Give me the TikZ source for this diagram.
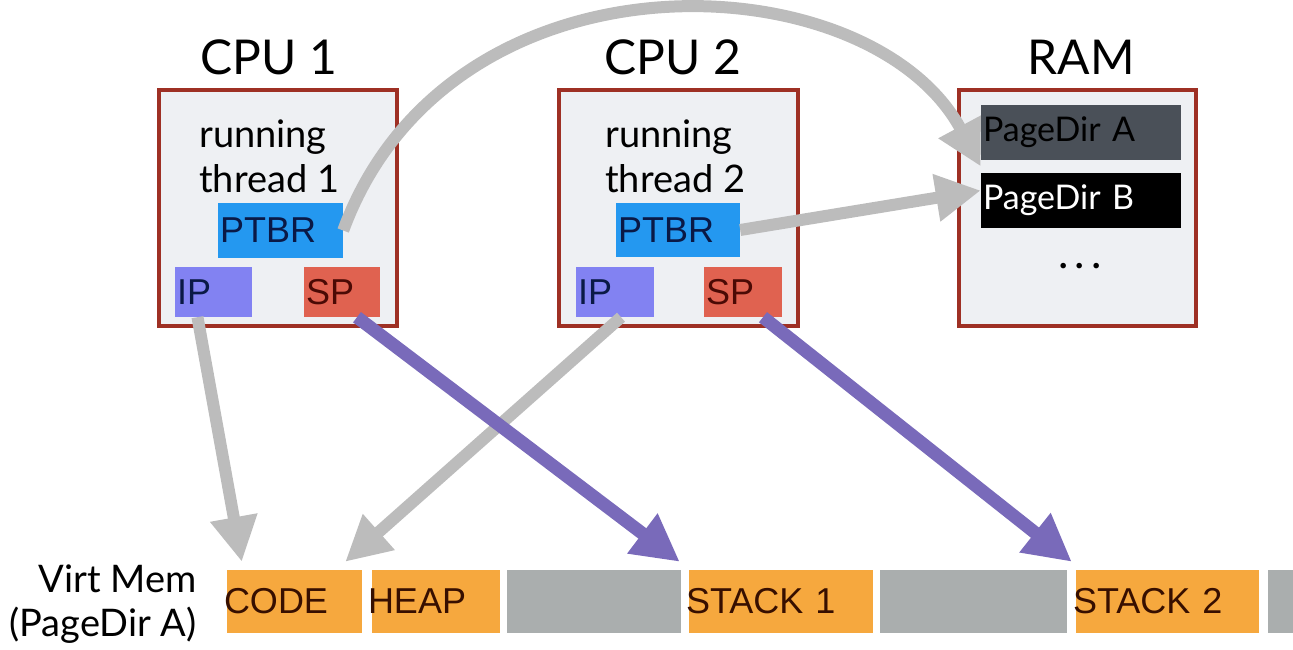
\documentclass[tikz,border=0pt]{standalone}
\usepackage{fontspec}
\setmainfont{Lato}
\newfontfamily\helv{Liberation Sans}
\usetikzlibrary{arrows.meta,calc}

\definecolor{boxred}{RGB}{158,48,36}
\definecolor{boxfill}{RGB}{238,240,243}
\definecolor{ptbrblue}{RGB}{36,152,240}
\definecolor{ipblue}{RGB}{130,130,242}
\definecolor{spred}{RGB}{224,98,80}
\definecolor{dirgray}{RGB}{74,80,88}
\definecolor{segorange}{RGB}{246,168,62}
\definecolor{seggray}{RGB}{170,174,174}
\definecolor{linkgray}{RGB}{188,188,188}
\definecolor{linkpurple}{RGB}{121,106,186}
\definecolor{navy}{RGB}{10,25,70}
\definecolor{darkbrown}{RGB}{55,15,0}
\definecolor{darkred}{RGB}{75,10,5}

\begin{document}
\begin{tikzpicture}[x=1pt,y=-1pt,
  unit/.style={draw=boxred,line width=4pt,fill=boxfill,inner sep=0pt},
  title/.style={font=\fontsize{48}{48}\selectfont,anchor=base},
  caption/.style={font=\fontsize{38}{45}\selectfont,align=left,anchor=base west,inner sep=0pt},
  reg/.style={inner xsep=2pt,inner ysep=0pt,align=left,font=\helv\fontsize{36}{36}\selectfont},
  dir/.style={inner xsep=2pt,inner ysep=0pt,align=left,text width=196pt,minimum height=55pt,font=\fontsize{34}{34}\selectfont},
  seg/.style={inner sep=0pt,minimum height=63pt,align=left,font=\helv\fontsize{36}{36}\selectfont,text=darkbrown},
  link/.style={line width=12pt,draw=linkgray,-{Triangle[length=45pt,width=45pt]}},
  stacklink/.style={line width=13pt,draw=linkpurple,-{Triangle[length=47pt,width=47pt]}}
]
\useasboundingbox (0,0) rectangle (1293,650);

% processors and memory
\node[unit,minimum width=238pt,minimum height=236pt] (cpu1) at (278,208) {};
\node[unit,minimum width=239pt,minimum height=236pt] (cpu2) at (678.5,208) {};
\node[unit,minimum width=237pt,minimum height=236pt] (ram) at (1077.5,208) {};

\node[title] (t1) at (269,75) {CPU 1};
\node[title] (t2) at (673,75) {CPU 2};
\node[title] (t3) at (1081,75) {RAM};

% the base anchor of a two-line node sits on its last line
\node[caption] (run1) at (199,192) {running\\thread 1};
\node[caption] (run2) at (605,192) {running\\thread 2};

% registers
\node[reg,fill=ptbrblue,text=navy,text width=121pt,minimum height=55pt] (ptbr1) at (280.5,230.5) {PTBR};
\node[reg,fill=ipblue,text=navy,text width=73pt,minimum height=50pt] (ip1) at (213.5,292) {IP};
\node[reg,fill=spred,text=darkred,text width=72pt,minimum height=50pt] (sp1) at (342,292) {SP};

\node[reg,fill=ptbrblue,text=navy,text width=120pt,minimum height=54pt] (ptbr2) at (678,230) {PTBR};
\node[reg,fill=ipblue,text=navy,text width=74pt,minimum height=50pt] (ip2) at (615,292) {IP};
\node[reg,fill=spred,text=darkred,text width=74pt,minimum height=50pt] (sp2) at (743,292) {SP};

% page directories
\node[dir,fill=dirgray,text=black] (pda) at (1081,132.5) {PageDir A};
\node[dir,fill=black,text=white] (pdb) at (1081,200.5) {PageDir B};
\node[font=\fontsize{44}{44}\selectfont,anchor=base,inner sep=0pt] (more) at (1080,268) {.\hspace{6pt}.\hspace{6pt}.};

% virtual memory layout
\node[font=\fontsize{38}{44}\selectfont,align=right,anchor=base east,inner sep=0pt] (vm) at (197,636) {Virt Mem\\(PageDir A)};
\node[seg,fill=segorange,text width=135pt] (code) at (294.5,601.5) {\hspace*{-3pt}CODE};
\node[seg,fill=segorange,text width=128pt] (heap) at (436,601.5) {\hspace*{-4pt}HEAP};
\node[seg,fill=seggray,text width=174pt] (gap1) at (594,601.5) {};
\node[seg,fill=segorange,text width=184pt] (stack1) at (781,601.5) {\hspace*{-3pt}STACK 1};
\node[seg,fill=seggray,text width=187pt] (gap2) at (973.5,601.5) {};
\node[seg,fill=segorange,text width=183pt] (stack2) at (1167.5,601.5) {\hspace*{-3pt}STACK 2};
\node[seg,fill=seggray,text width=25pt] (gap3) at (1280.5,601.5) {};

% page table base registers point into RAM
\draw[link] (ptbr1.east) .. controls (450,-60) and (870,-40) .. ($(pda.south west)!0.5!(pdb.north west)$);
\draw[link] (ptbr2.east) -- ([yshift=10pt]pdb.west);

% instruction pointers into code
\draw[link] ([xshift=-16pt]ip1.south) -- ([xshift=15pt,yshift=8pt]code.north west);
\draw[link] ([xshift=6pt]ip2.south) -- ([xshift=-17pt,yshift=8pt]code.north east);

% stack pointers into their stacks
\draw[stacklink] ([xshift=15pt]sp1.south) -- ([xshift=-9pt,yshift=8pt]stack1.north west);
\draw[stacklink] ([xshift=20pt]sp2.south) -- ([xshift=-4pt,yshift=8pt]stack2.north west);
\end{tikzpicture}
\end{document}
